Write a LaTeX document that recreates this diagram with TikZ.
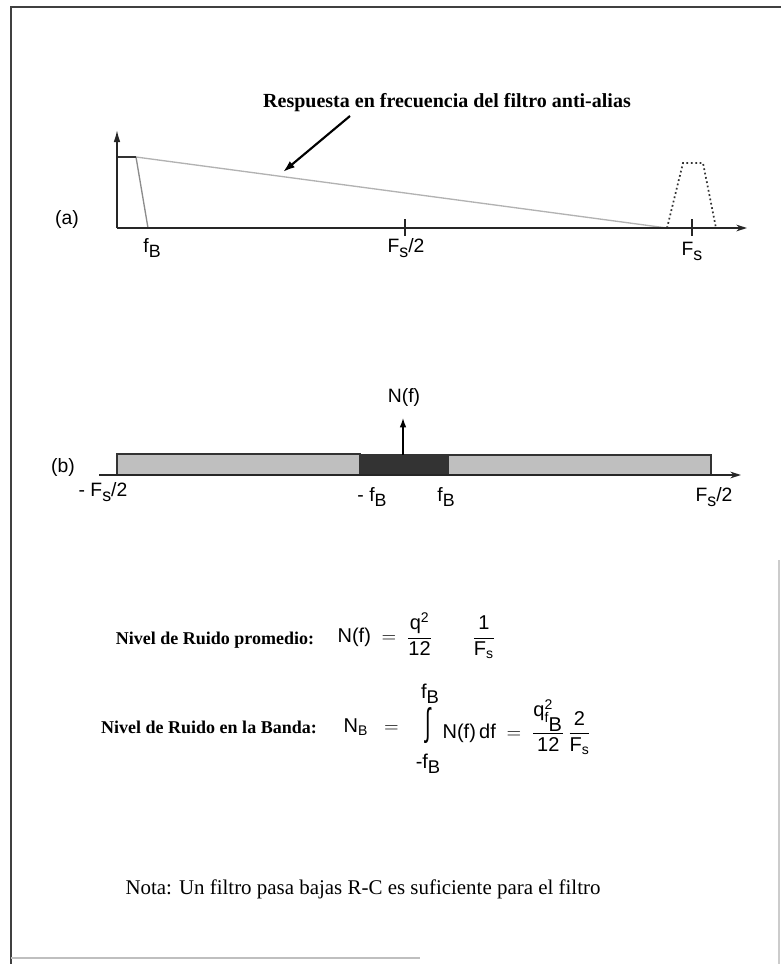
\documentclass[tikz,border=0pt]{standalone}
\usepackage{fontspec}
\usepackage{amsmath}
\setmainfont{Liberation Serif}
\setsansfont{Liberation Sans}
\usetikzlibrary{arrows.meta}

\newcommand{\lowsub}[2]{#1\raisebox{-0.5ex}{\scalebox{0.92}{#2}}}

\tikzstyle{frame} = [line width=1.2pt, draw=black!75]
\tikzstyle{axis} = [line width=1.1pt, draw=black!85, -{Stealth[length=8pt,width=5pt]}]
\tikzstyle{tick} = [line width=1.1pt, draw=black!85]
\tikzstyle{response} = [line width=1pt, draw=black!30]
\tikzstyle{image} = [line width=1.3pt, dotted, draw=black!80]
\tikzstyle{band} = [line width=1pt, draw=black!80, fill=black!25]
\tikzstyle{inband} = [line width=1pt, draw=black!80, fill=black!80]
\tikzstyle{freq} = [font=\sffamily\fontsize{14.5}{14.5}\selectfont, inner sep=1pt]
\tikzstyle{caption} = [font=\bfseries\fontsize{15}{15}\selectfont, inner sep=1pt]
\tikzstyle{formula} = [font=\sffamily\fontsize{15}{15}\selectfont, inner sep=1pt]
\tikzstyle{pointer} = [line width=1.6pt, -{Latex[length=9pt,width=6pt]}]

\begin{document}
\begin{tikzpicture}[x=0.75pt, y=-0.75pt]
\useasboundingbox (0,0) rectangle (781,964);

\draw [frame] (781,7) -- (11,7) -- (11,964);
\draw [black!25, line width=0.8pt] (11,958) -- (420,958);
\draw [black!20, line width=0.8pt] (779,560) -- (779,964);

\coordinate (oa) at (117,228);
\coordinate (ya) at (117,130);
\coordinate (xa) at (747,228);
\coordinate (flat) at (117,157);
\coordinate (knee) at (136,157);
\coordinate (fb) at (148,228);
\coordinate (imgl) at (667,228);
\coordinate (imgtl) at (683,163);
\coordinate (imgtr) at (703,163);
\coordinate (imgr) at (716,228);

\node (title) [caption] at (447,103) {Respuesta en frecuencia del filtro anti-alias};
\coordinate (tail) at (350,116);
\coordinate (tip) at (283,172);

\node (lbla) [freq] at (67,219) {(a)};
\node (fbA) [freq] at (152,248) {\lowsub{f}{B}};
\node (halfA) [freq] at (406,248) {\lowsub{F}{s}/2};
\node (fsA) [freq] at (692,251) {\lowsub{F}{s}};

\draw [response] (knee) -- (imgl);
\draw [response, black!45] (knee) -- (fb);
\draw [line width=1.2pt, black!80] (flat) -- (knee);
\draw [image] (imgl) -- (imgtl) -- (imgtr) -- (imgr);
\draw [axis, -{Latex[length=9pt,width=5pt]}] (oa) -- (ya);
\draw [axis] (oa) -- (xa);
\draw [tick] (405,219) -- (405,236);
\draw [tick] (692,219) -- (692,236);
\draw [pointer] (tail) -- (tip);

\coordinate (ob) at (99,475);
\coordinate (xb) at (741,475);
\coordinate (nfbase) at (403,455);
\coordinate (nftip) at (403,418);

\node (lblb) [freq] at (63,467) {(b)};
\node (nf) [freq] at (404,397) {N(f)};
\node (lowB) [freq] at (103,492) {- \lowsub{F}{s}/2};
\node (mfbB) [freq] at (372,497) {- \lowsub{f}{B}};
\node (fbB) [freq] at (446,497) {\lowsub{f}{B}};
\node (highB) [freq] at (714,497) {\lowsub{F}{s}/2};

\draw [band] (117,454) rectangle (360,475);
\draw [inband] (360,455) rectangle (448,475);
\draw [band] (448,455) rectangle (711,475);
\draw [axis] (ob) -- (xb);
\draw [line width=1pt, -{Latex[length=7pt,width=5pt]}] (nfbase) -- (nftip);

\node (avg) [caption, font=\bfseries\fontsize{13.5}{13.5}\selectfont] at (215,640) {Nivel de Ruido promedio:};
\node (avgeq) [formula, anchor=west] at (336,636)
{$\text{N(f)} \;=\; \dfrac{\text{q}^{\text{2}}}{\text{12}}\qquad\dfrac{\text{1}}{\text{F}_{\text{s}}}$};

\node (inband) [caption, font=\bfseries\fontsize{13.5}{13.5}\selectfont] at (209,727) {Nivel de Ruido en la Banda:};
\node (nb) [formula, anchor=west] at (342,727) {$\text{N}_{\text{B}}\;\;=$};
\node (integ) [formula] at (428,726) {\scalebox{1}[1.9]{∫}};
\node (upper) [formula] at (430,694) {\lowsub{f}{B}};
\node (lower) [formula] at (428,764) {-\lowsub{f}{B}};
\node (rest) [formula, anchor=west] at (441,727)
{$\text{N(f)\,df} \;=\; \dfrac{\text{q}^{\text{2}}_{\text{f}_{\textstyle\text{B}}}}{\text{12}}\,\dfrac{\text{2}}{\text{F}_{\text{s}}}$};

\node (nota) [font=\fontsize{15.7}{15.7}\selectfont] at (363,889) {Nota: Un filtro pasa bajas R-C es suficiente para el filtro};

\end{tikzpicture}
\end{document}
